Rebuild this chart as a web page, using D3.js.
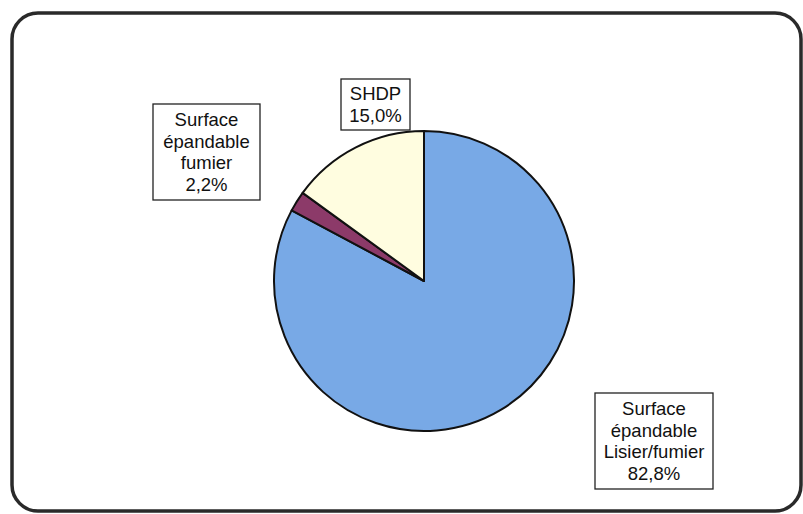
<!DOCTYPE html>
<html>
<head>
<meta charset="utf-8">
<script src="https://cdn.jsdelivr.net/npm/d3@7"></script>
<style>
  body { margin: 0; background: #fff; }
  text { font-family: "Liberation Sans", Arial, sans-serif; }
</style>
</head>
<body>
<div id="chart"></div>
<script>
// Data
const categories = ["Surface épandable Lisier/fumier", "Surface épandable fumier", "SHDP"];
const values = [82.8, 2.2, 15.0];
const valueLabels = ["82,8%", "2,2%", "15,0%"];
const labelLines = [
  ["Surface", "épandable", "Lisier/fumier"],
  ["Surface", "épandable", "fumier"],
  ["SHDP"]
];
const sliceColors = ["#78a9e6", "#8c3a69", "#fffde0"];

const width = 803, height = 514;
const cx = 424, cy = 281, radius = 150;

const svg = d3.select("#chart")
  .append("svg")
  .attr("width", width)
  .attr("height", height);

// Rounded frame
svg.append("rect")
  .attr("x", 12).attr("y", 13)
  .attr("width", 789).attr("height", 498)
  .attr("rx", 26).attr("ry", 26)
  .attr("fill", "#fff")
  .attr("stroke", "#2a2a2a")
  .attr("stroke-width", 3.5);

const data = categories.map((c, i) => ({ name: c, value: values[i], label: valueLabels[i], lines: labelLines[i] }));

const pie = d3.pie().sort(null).value(d => d.value);
const arc = d3.arc().innerRadius(0).outerRadius(radius);

const g = svg.append("g").attr("transform", `translate(${cx},${cy})`);

g.selectAll("path")
  .data(pie(data))
  .join("path")
  .attr("d", arc)
  .attr("fill", (d, i) => sliceColors[i])
  .attr("stroke", "#111")
  .attr("stroke-width", 2)
  .attr("stroke-linejoin", "round");

// Label boxes (placed as in the original)
const boxes = [
  { x: 595, y: 393, w: 118, h: 96 },
  { x: 153, y: 104, w: 107, h: 96 },
  { x: 341, y: 79, w: 69, h: 51 }
];

const lineH = 21.7;
data.forEach((d, i) => {
  const b = boxes[i];
  const lines = d.lines.concat([d.label]);
  const lg = svg.append("g");
  lg.append("rect")
    .attr("x", b.x).attr("y", b.y)
    .attr("width", b.w).attr("height", b.h)
    .attr("fill", "#fff")
    .attr("stroke", "#222")
    .attr("stroke-width", 1.3);
  const midY = b.y + b.h / 2;
  lines.forEach((t, j) => {
    lg.append("text")
      .attr("x", b.x + b.w / 2)
      .attr("y", midY + (j - (lines.length - 1) / 2) * lineH)
      .attr("dy", "0.35em")
      .attr("text-anchor", "middle")
      .attr("font-size", 18.5)
      .attr("fill", "#111")
      .text(t);
  });
});
</script>
</body>
</html>
